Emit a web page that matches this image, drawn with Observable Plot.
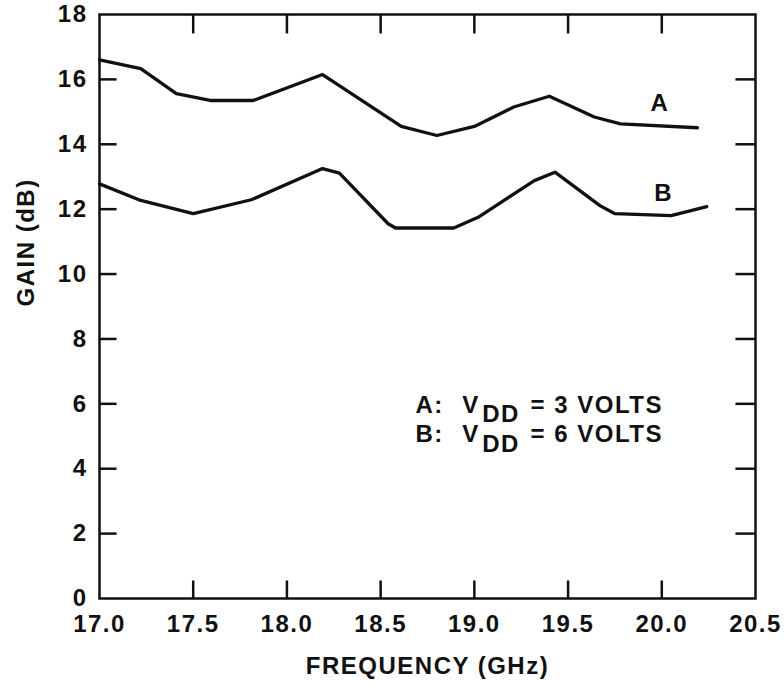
<!DOCTYPE html>
<html>
<head>
<meta charset="utf-8">
<script src="https://cdn.jsdelivr.net/npm/d3@7"></script>
<script src="https://cdn.jsdelivr.net/npm/@observablehq/plot@0.6"></script>
<style>
  html, body { margin: 0; padding: 0; background: #fff; }
  #chart { width: 784px; height: 684px; }
</style>
</head>
<body>
<div id="chart"></div>
<script>
// ---- data ----
const xTicks = [17.0, 17.5, 18.0, 18.5, 19.0, 19.5, 20.0, 20.5];
const yTicks = [0, 2, 4, 6, 8, 10, 12, 14, 16, 18];

// Curve A: VDD = 3 volts
const freqA = [17.0, 17.22, 17.41, 17.59, 17.82, 18.19, 18.61, 18.80, 19.00, 19.21, 19.40, 19.64, 19.78, 20.19];
const gainA = [16.6, 16.33, 15.56, 15.35, 15.35, 16.15, 14.55, 14.27, 14.55, 15.15, 15.48, 14.84, 14.63, 14.51];

// Curve B: VDD = 6 volts
const freqB = [17.0, 17.22, 17.50, 17.81, 18.19, 18.28, 18.54, 18.58, 18.89, 19.02, 19.32, 19.43, 19.67, 19.75, 20.05, 20.24];
const gainB = [12.78, 12.27, 11.86, 12.29, 13.25, 13.11, 11.55, 11.42, 11.42, 11.75, 12.88, 13.14, 12.11, 11.86, 11.80, 12.08];

const curveNames = ["A", "B"];
const curveVolts = [3, 6];
const xTitle = "FREQUENCY (GHz)";
const yTitle = "GAIN (dB)";

// ---- build tables ----
const rowsA = freqA.map((f, i) => ({f, g: gainA[i]}));
const rowsB = freqB.map((f, i) => ({f, g: gainB[i]}));
const ink = "#111";
const fs = 24;
const innerX = xTicks.slice(1, -1);
const innerY = yTicks.slice(1, -1);
const xMin = xTicks[0], xMax = xTicks[xTicks.length - 1];
const yMin = yTicks[0], yMax = yTicks[yTicks.length - 1];
// inward tick lengths expressed in axis units
const tickBottom = 0.555, tickTop = 0.585, tickLeft = 0.091, tickRight = 0.107;
const xTickSegs = innerX.flatMap(v => [
  {x: v, a: yMin, b: yMin + tickBottom},
  {x: v, a: yMax - tickTop, b: yMax}
]);
const yTickSegs = innerY.flatMap(v => [
  {y: v, a: xMin, b: xMin + tickLeft},
  {y: v, a: xMax - tickRight, b: xMax}
]);

const chart = Plot.plot({
  width: 784,
  height: 684,
  marginLeft: 99,
  marginRight: 29,
  marginTop: 14,
  marginBottom: 86,
  x: {domain: [xMin, xMax]},
  y: {domain: [yMin, yMax]},
  style: {fontFamily: "'Liberation Sans', Arial, Helvetica, sans-serif", background: "#fff", color: ink, letterSpacing: "1.5px"},
  marks: [
    Plot.frame({stroke: ink, strokeWidth: 2.5}),
    // inward ticks on all four sides
    Plot.link(xTickSegs, {x1: "x", x2: "x", y1: "a", y2: "b", stroke: ink, strokeWidth: 2.5}),
    Plot.link(yTickSegs, {y1: "y", y2: "y", x1: "a", x2: "b", stroke: ink, strokeWidth: 2.5}),
    Plot.axisX(xTicks, {anchor: "bottom", tickSize: 0, tickPadding: 16, tickFormat: d3.format(".1f"), fontSize: fs, fontWeight: "bold", label: null}),
    Plot.axisY(yTicks, {anchor: "left", tickSize: 0, tickPadding: 12, fontSize: fs, fontWeight: "bold", label: null}),
    Plot.text([xTitle], {frameAnchor: "bottom", dy: 75, lineAnchor: "bottom", fontSize: fs, fontWeight: "bold"}),
    Plot.text([yTitle], {frameAnchor: "left", dx: -73, rotate: -90, fontSize: fs, fontWeight: "bold"}),
    // curves
    Plot.line(rowsA, {x: "f", y: "g", stroke: ink, strokeWidth: 3.3, strokeLinejoin: "round", strokeLinecap: "round"}),
    Plot.line(rowsB, {x: "f", y: "g", stroke: ink, strokeWidth: 3.3, strokeLinejoin: "round", strokeLinecap: "round"}),
    // curve labels
    Plot.text(curveNames, {x: [19.99, 20.01], y: [15.26, 12.49], text: d => d, fontSize: fs, fontWeight: "bold"}),
    // annotation block
    Plot.text(curveNames, {x: 18.686, y: [5.72, 4.82], text: d => d + ":", textAnchor: "start", lineAnchor: "bottom", fontSize: fs, fontWeight: "bold"}),
    Plot.text(curveNames, {x: 18.935, y: [5.72, 4.82], text: () => "V", textAnchor: "start", lineAnchor: "bottom", fontSize: fs, fontWeight: "bold"}),
    Plot.text(curveNames, {x: 19.042, y: [5.43, 4.53], text: () => "DD", textAnchor: "start", lineAnchor: "bottom", fontSize: fs, fontWeight: "bold"}),
    Plot.text(curveVolts, {x: 19.300, y: [5.72, 4.82], text: d => "= " + d + " VOLTS", textAnchor: "start", lineAnchor: "bottom", fontSize: fs, fontWeight: "bold"})
  ]
});
document.getElementById("chart").appendChild(chart);
</script>
</body>
</html>
